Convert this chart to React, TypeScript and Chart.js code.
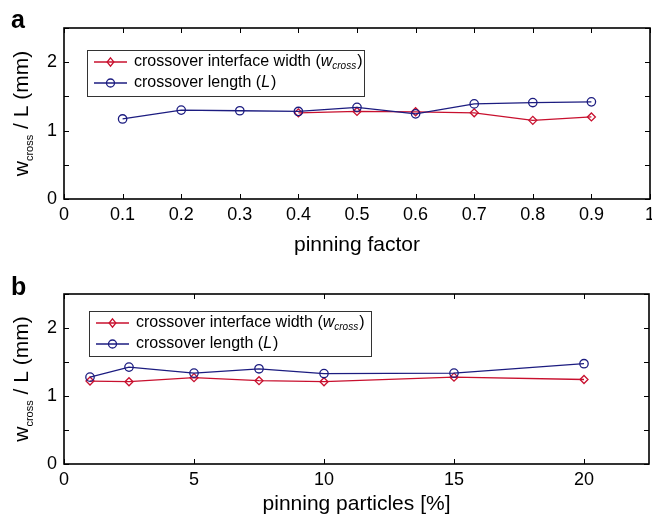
import React, { useEffect, useRef } from 'react';
import { Chart, registerables } from 'chart.js';

Chart.register(...registerables);

// ---- data ----
const pinningFactor = [0.1, 0.2, 0.3, 0.4, 0.5, 0.6, 0.7, 0.8, 0.9];
const widthA = [null, null, null, 1.26, 1.28, 1.275, 1.26, 1.15, 1.2];
const lengthA = [1.17, 1.3, 1.29, 1.28, 1.34, 1.245, 1.39, 1.41, 1.42];

const particles = [1, 2.5, 5, 7.5, 10, 15, 20];
const widthB = [1.22, 1.21, 1.27, 1.225, 1.21, 1.277, 1.243];
const lengthB = [1.277, 1.425, 1.336, 1.4, 1.33, 1.336, 1.475];

const xTicksA = [0, 0.1, 0.2, 0.3, 0.4, 0.5, 0.6, 0.7, 0.8, 0.9, 1];
const xLabelsA = ['0', '0.1', '0.2', '0.3', '0.4', '0.5', '0.6', '0.7', '0.8', '0.9', '1'];
const xTicksB = [0, 5, 10, 15, 20];
const xLabelsB = ['0', '5', '10', '15', '20'];
const yTicks = [0, 0.5, 1, 1.5, 2, 2.5];
const yLabels = ['0', '', '1', '', '2', ''];

const RED = '#c8102e';
const BLUE = '#1c1c80';
const FONT = '"Liberation Sans", Arial, Helvetica, sans-serif';

type Panel = {
  letter: string;
  letterY: number;
  xs: number[];
  w: (number | null)[];
  L: (number | null)[];
  xMin: number;
  xMax: number;
  xTicks: number[];
  xLabels: string[];
  xTitle: string;
  xTitleY: number;
  padTop: number;
  padRight: number;
  xAxisHeight: number;
  legend: { x: number; y: number; w: number; h: number };
};

const panelA: Panel = {
  letter: 'a', letterY: 28,
  xs: pinningFactor, w: widthA, L: lengthA,
  xMin: 0, xMax: 1, xTicks: xTicksA, xLabels: xLabelsA,
  xTitle: 'pinning factor', xTitleY: 251,
  padTop: 28, padRight: 2, xAxisHeight: 62,
  legend: { x: 87, y: 50, w: 277, h: 46 },
};

const panelB: Panel = {
  letter: 'b', letterY: 34,
  xs: particles, w: widthB, L: lengthB,
  xMin: 0, xMax: 22.5, xTicks: xTicksB, xLabels: xLabelsB,
  xTitle: 'pinning particles [%]', xTitleY: 249,
  padTop: 33, padRight: 3, xAxisHeight: 58,
  legend: { x: 89, y: 50, w: 282, h: 45 },
};

function drawDiamond(ctx: CanvasRenderingContext2D, x: number, y: number, r: number) {
  ctx.beginPath();
  ctx.moveTo(x, y - r);
  ctx.lineTo(x + r * 0.8, y);
  ctx.lineTo(x, y + r);
  ctx.lineTo(x - r * 0.8, y);
  ctx.closePath();
  ctx.stroke();
}

function drawCircle(ctx: CanvasRenderingContext2D, x: number, y: number, r: number) {
  ctx.beginPath();
  ctx.arc(x, y, r, 0, Math.PI * 2);
  ctx.stroke();
}

const framePlugin = (p: Panel) => ({
  id: 'frame' + p.letter,
  afterDraw(chart: any) {
    const { ctx, chartArea: a, scales } = chart;
    ctx.save();
    // box
    ctx.strokeStyle = '#000';
    ctx.lineWidth = 1.6;
    ctx.strokeRect(a.left, a.top, a.right - a.left, a.bottom - a.top);
    // inward ticks
    ctx.lineWidth = 1;
    const tl = 5;
    ctx.beginPath();
    p.xTicks.forEach((v) => {
      const x = Math.round(scales.x.getPixelForValue(v)) + 0.5;
      ctx.moveTo(x, a.bottom); ctx.lineTo(x, a.bottom - tl);
      ctx.moveTo(x, a.top); ctx.lineTo(x, a.top + tl);
    });
    yTicks.forEach((v) => {
      const y = Math.round(scales.y.getPixelForValue(v)) + 0.5;
      ctx.moveTo(a.left, y); ctx.lineTo(a.left + tl, y);
      ctx.moveTo(a.right, y); ctx.lineTo(a.right - tl, y);
    });
    ctx.stroke();

    // x tick labels
    ctx.fillStyle = '#000';
    ctx.font = `18px ${FONT}`;
    ctx.textAlign = 'center';
    ctx.textBaseline = 'middle';
    p.xTicks.forEach((v, i) => {
      ctx.fillText(p.xLabels[i], scales.x.getPixelForValue(v), a.bottom + 16);
    });

    // panel letter
    ctx.textBaseline = 'alphabetic';
    ctx.textAlign = 'left';
    ctx.font = `bold 25px ${FONT}`;
    ctx.fillText(p.letter, 11, p.letterY);

    // x title
    ctx.font = `21px ${FONT}`;
    ctx.textAlign = 'center';
    ctx.fillText(p.xTitle, (a.left + a.right) / 2, p.xTitleY);

    // y title (rotated, with subscript)
    ctx.save();
    ctx.translate(28, (a.top + a.bottom) / 2);
    ctx.rotate(-Math.PI / 2);
    ctx.textAlign = 'left';
    ctx.font = `21px ${FONT}`;
    const wW = ctx.measureText('w').width;
    const rest = ' / L (mm)';
    const rW = ctx.measureText(rest).width;
    ctx.font = `11px ${FONT}`;
    const cW = ctx.measureText('cross').width;
    const x0 = -(wW + cW + rW) / 2;
    ctx.font = `21px ${FONT}`;
    ctx.fillText('w', x0, 0);
    ctx.font = `11px ${FONT}`;
    ctx.fillText('cross', x0 + wW, 5);
    ctx.font = `21px ${FONT}`;
    ctx.fillText(rest, x0 + wW + cW, 0);
    ctx.restore();

    // legend
    const L = p.legend;
    ctx.fillStyle = '#fff';
    ctx.fillRect(L.x, L.y, L.w, L.h);
    ctx.strokeStyle = '#333';
    ctx.lineWidth = 1;
    ctx.strokeRect(L.x + 0.5, L.y + 0.5, L.w, L.h);
    const rows = [L.y + 12, L.y + 33];
    const lx0 = L.x + 7, lx1 = L.x + 40, mx = L.x + 23.5, tx = L.x + 47;
    ctx.lineWidth = 1.3;
    ctx.strokeStyle = RED;
    ctx.beginPath(); ctx.moveTo(lx0, rows[0]); ctx.lineTo(lx1, rows[0]); ctx.stroke();
    drawDiamond(ctx, mx, rows[0], 4.2);
    ctx.strokeStyle = BLUE;
    ctx.beginPath(); ctx.moveTo(lx0, rows[1]); ctx.lineTo(lx1, rows[1]); ctx.stroke();
    drawCircle(ctx, mx, rows[1], 4);

    ctx.fillStyle = '#000';
    ctx.textAlign = 'left';
    ctx.textBaseline = 'middle';
    let tx1 = tx;
    const t1 = 'crossover interface width (';
    ctx.font = `16px ${FONT}`;
    ctx.fillText(t1, tx1, rows[0]);
    tx1 += ctx.measureText(t1).width;
    ctx.font = `italic 16px ${FONT}`;
    ctx.fillText('w', tx1, rows[0]);
    tx1 += ctx.measureText('w').width;
    ctx.font = `italic 10px ${FONT}`;
    ctx.fillText('cross', tx1, rows[0] + 4);
    tx1 += ctx.measureText('cross').width + 1;
    ctx.font = `16px ${FONT}`;
    ctx.fillText(')', tx1, rows[0]);

    let tx2 = tx;
    const t2 = 'crossover length (';
    ctx.fillText(t2, tx2, rows[1]);
    tx2 += ctx.measureText(t2).width;
    ctx.font = `italic 16px ${FONT}`;
    ctx.fillText('L', tx2, rows[1]);
    tx2 += ctx.measureText('L').width + 1;
    ctx.font = `16px ${FONT}`;
    ctx.fillText(')', tx2, rows[1]);

    ctx.restore();
  },
});

function makeConfig(p: Panel): any {
  return {
    type: 'line',
    data: {
      datasets: [
        {
          label: 'crossover interface width',
          data: p.xs.map((x, i) => ({ x, y: p.w[i] })),
          borderColor: RED,
          backgroundColor: 'rgba(0,0,0,0)',
          pointBackgroundColor: 'rgba(0,0,0,0)',
          pointBorderColor: RED,
          pointStyle: 'rectRot',
          pointRadius: 4,
          pointBorderWidth: 1.3,
          borderWidth: 1.3,
          tension: 0,
          spanGaps: false,
          order: 1,
        },
        {
          label: 'crossover length',
          data: p.xs.map((x, i) => ({ x, y: p.L[i] })),
          borderColor: BLUE,
          backgroundColor: 'rgba(0,0,0,0)',
          pointBackgroundColor: 'rgba(0,0,0,0)',
          pointBorderColor: BLUE,
          pointStyle: 'circle',
          pointRadius: 4.2,
          pointBorderWidth: 1.3,
          borderWidth: 1.3,
          tension: 0,
          order: 0,
        },
      ],
    },
    options: {
      responsive: false,
      maintainAspectRatio: false,
      animation: false,
      devicePixelRatio: 1,
      layout: { autoPadding: false, padding: { left: 0, right: p.padRight, top: p.padTop, bottom: 0 } },
      plugins: { legend: { display: false }, tooltip: { enabled: false }, title: { display: false } },
      events: [],
      scales: {
        x: {
          type: 'linear',
          min: p.xMin,
          max: p.xMax,
          afterBuildTicks: (s: any) => { s.ticks = p.xTicks.map((v) => ({ value: v })); },
          afterFit: (s: any) => {
            s.height = p.xAxisHeight;
            s.paddingLeft = 0; s.paddingRight = 0;
          },
          ticks: { display: false },
          grid: { display: false, drawTicks: false },
          border: { display: false },
        },
        y: {
          type: 'linear',
          min: 0,
          max: 2.5,
          afterBuildTicks: (s: any) => { s.ticks = yTicks.map((v) => ({ value: v })); },
          afterFit: (s: any) => {
            s.width = 64;
            s.paddingTop = 0; s.paddingBottom = 0;
          },
          ticks: {
            autoSkip: false,
            padding: 7,
            color: '#000',
            font: { family: FONT, size: 18 },
            callback: (_v: any, i: number) => yLabels[i],
          },
          grid: { display: false, drawTicks: false },
          border: { display: false },
        },
      },
    },
    plugins: [framePlugin(p)],
  };
}

function PanelChart({ panel }: { panel: Panel }) {
  const ref = useRef<HTMLCanvasElement | null>(null);
  useEffect(() => {
    if (!ref.current) return;
    const chart = new Chart(ref.current, makeConfig(panel));
    return () => chart.destroy();
  }, [panel]);
  return <canvas ref={ref} width={652} height={261} style={{ display: 'block', width: 652, height: 261 }} />;
}

export default function App() {
  return (
    <div style={{ position: 'absolute', left: 0, top: 0, width: 652, height: 522, background: '#fff' }}>
      <PanelChart panel={panelA} />
      <PanelChart panel={panelB} />
    </div>
  );
}
